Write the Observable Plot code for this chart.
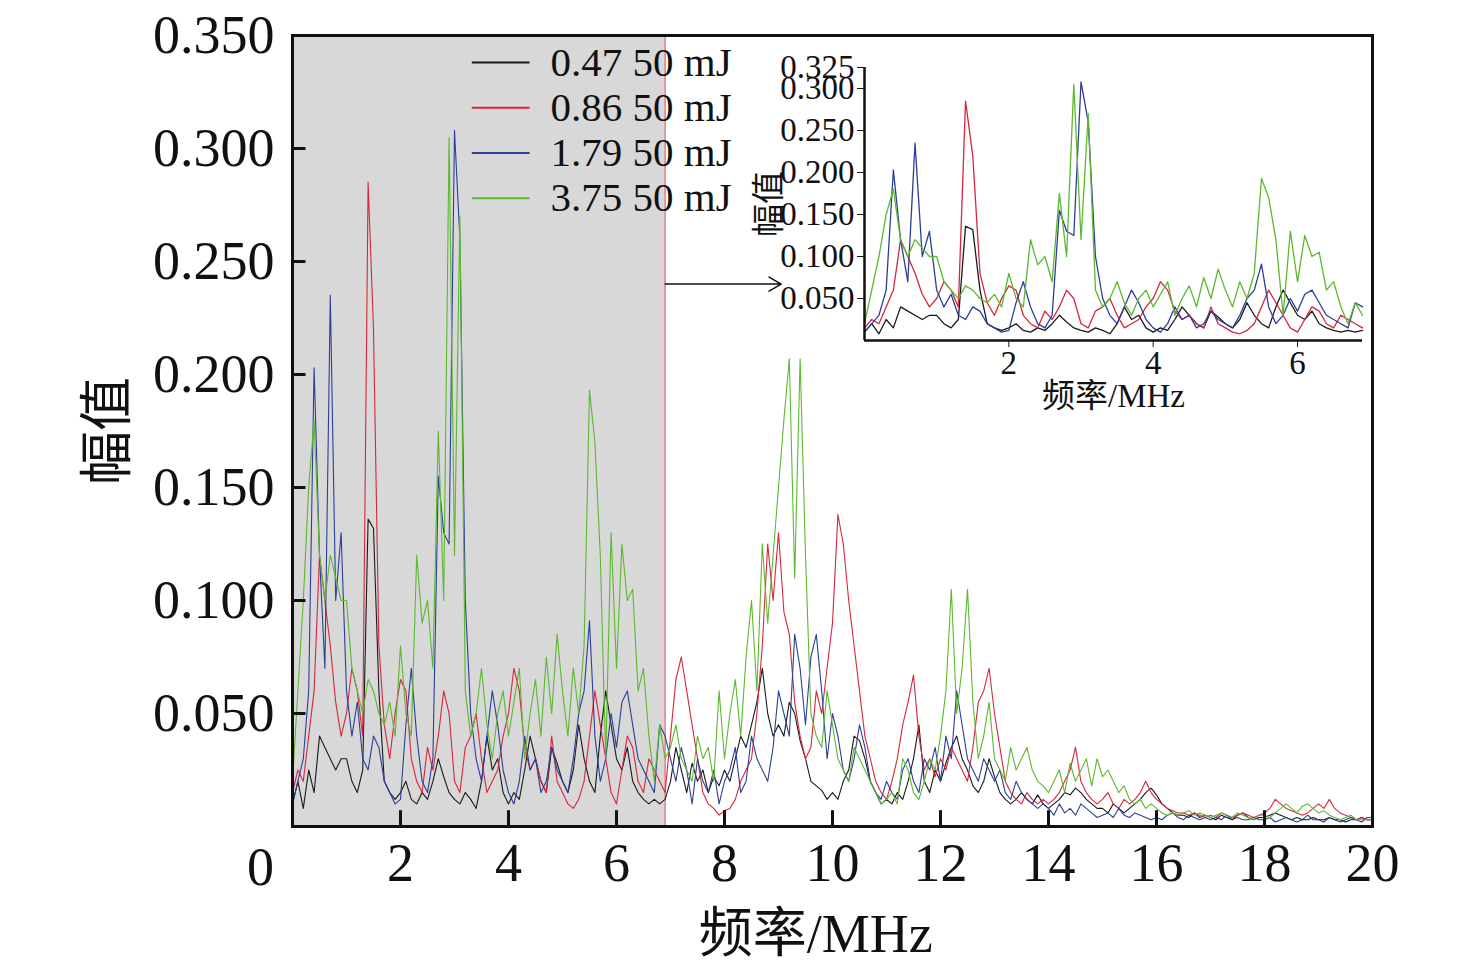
<!DOCTYPE html>
<html><head><meta charset="utf-8">
<script src="https://cdn.jsdelivr.net/npm/d3@7"></script>
<script src="https://cdn.jsdelivr.net/npm/@observablehq/plot@0.6"></script>
<style>
body{margin:0;background:#fff}
#c{position:relative;width:1476px;height:971px}
#c svg{position:absolute;overflow:visible}
</style></head><body><div id="c"></div>
<script>
const seriesNames = ["0.47 50 mJ","0.86 50 mJ","1.79 50 mJ","3.75 50 mJ"];
const seriesColors = ["#1a1a1a","#d7263d","#2b3f98","#5cb82e"];
const freqStep = 0.1; // MHz, x = index * step, 0..20
const black = [10,20,8,25,15,40,35,30,25,30, 30,20,15,25,136,132,60,20,15,12, 15,20,12,10,15,12,20,30,22,15, 12,10,15,12,8,20,40,25,30,15, 10,15,12,25,40,30,20,15,35,28, 20,15,25,45,30,20,15,40,60,45, 30,25,35,20,15,12,10,12,10,12, 20,35,25,15,28,20,25,15,22,18, 25,20,30,40,35,45,55,70,50,40, 45,40,55,50,38,30,20,18,16,12, 15,12,20,25,40,38,30,20,15,10, 12,10,15,12,20,30,45,20,15,25, 20,28,35,40,30,25,18,15,20,30, 22,15,12,10,12,15,12,10,14,10, 8,10,12,15,14,17,15,12,10,8, 8,6,10,8,6,8,10,12,15,17, 14,10,8,6,5,5,4,6,4,5, 4,3,5,4,3,5,6,4,3,4, 4,5,6,5,4,3,4,3,3,4, 3,3,4,3,3,2,3,3,4,3, 3];
const red = [15,25,20,40,60,120,100,80,55,40, 50,70,60,40,285,220,80,45,30,50, 65,60,30,20,15,35,25,40,60,50, 20,15,35,40,50,30,15,20,25,40, 50,70,60,35,25,30,20,15,40,20, 15,10,8,12,20,40,60,45,30,15, 10,25,40,35,20,15,30,25,20,15, 40,65,75,60,45,30,15,10,8,5, 7,8,12,20,25,30,50,80,125,100, 130,95,85,55,40,30,35,60,50,70, 90,138,125,100,80,60,40,30,20,15, 12,20,30,45,55,67,40,25,30,22, 30,25,35,30,25,20,35,55,60,70, 50,35,20,15,12,10,15,12,10,12, 10,12,15,20,25,35,20,15,12,10, 12,15,10,8,12,10,12,15,20,15, 12,10,8,7,6,6,5,6,5,4, 5,4,6,5,4,5,6,5,4,5, 6,8,12,10,8,7,6,5,6,8, 10,8,12,8,6,5,4,3,4,3, 3];
const blue = [10,20,30,60,203,120,70,235,100,130, 60,40,55,30,25,40,35,20,15,10, 12,45,70,40,20,15,30,155,130,125, 308,260,100,50,30,20,40,60,45,25, 15,10,20,40,25,30,15,20,35,25, 20,15,30,50,60,91,40,20,30,50, 35,55,60,45,30,25,20,15,45,40, 30,20,35,25,10,30,20,15,25,10, 20,25,35,15,20,40,30,25,20,35, 60,50,40,85,70,45,75,85,60,30, 50,40,25,20,30,45,35,20,15,12, 20,15,12,25,30,20,15,30,25,35, 20,40,30,60,45,30,25,20,30,25, 20,25,15,12,20,15,12,10,8,10, 8,5,10,6,8,5,10,8,6,4, 5,6,4,8,5,4,6,5,4,3, 4,3,5,6,4,3,5,4,3,4, 3,4,3,5,3,4,3,3,4,3, 3,4,2,3,4,3,2,3,5,3, 3,2,4,3,2,3,4,3,2,4, 4];
const green = [20,60,100,150,180,120,100,120,110,100, 100,70,60,50,65,60,50,45,55,40, 80,50,40,120,90,100,70,175,100,305, 120,270,60,40,50,70,45,30,50,60, 40,55,70,30,50,65,40,75,50,85, 60,40,70,50,80,193,170,120,30,130, 70,125,100,105,60,70,40,20,45,30, 35,45,30,25,20,40,30,35,20,60, 30,50,65,40,75,100,60,125,90,120, 150,180,207,110,207,120,50,40,35,60, 45,30,25,20,35,30,25,20,15,10, 12,15,10,30,25,15,12,20,30,25, 40,60,105,50,70,105,55,30,40,55, 30,25,20,35,25,30,35,25,20,18, 15,20,25,15,28,20,25,30,18,30, 22,25,20,15,18,12,10,12,8,10, 8,6,5,6,5,6,7,5,6,5, 4,5,6,5,4,6,5,4,3,5, 5,4,6,8,10,8,6,9,10,8, 6,7,5,4,3,4,5,3,3,3, 3];
const xTicks = [0,2,4,6,8,10,12,14,16,18,20];
const yTicks = [0.05,0.10,0.15,0.20,0.25,0.30,0.35];
const insetXTicks = [2,4,6];
const insetYTicks = [0.05,0.10,0.15,0.20,0.25,0.30,0.325];
const shadeEnd = 6.9;

const all = [black,red,blue,green];
const rows = [];
all.forEach((arr,si)=>arr.forEach((v,i)=>rows.push({x:+(i*freqStep).toFixed(2), y:v/1000, s:seriesNames[si]})));
const color = {domain:seriesNames, range:seriesColors};
const fmt3 = d3.format(".3f");
const font = "'Liberation Serif','Times New Roman','Noto Sans CJK SC',serif";

const legendY = [0.338,0.318,0.298,0.278];
const legend = seriesNames.map((s,i)=>({s, y:legendY[i]}));

const main = Plot.plot({
  width:1476, height:971, marginLeft:292, marginRight:104, marginTop:35, marginBottom:145,
  style:{fontFamily:font, fontSize:"54px", color:"#111", background:"transparent"},
  x:{domain:[0,20]}, y:{domain:[0,0.35]}, color,
  marks:[
    Plot.rect([{x1:0,x2:shadeEnd}],{x1:"x1",x2:"x2",y1:0,y2:0.35,fill:"#d8d8d8"}),
    Plot.ruleX([shadeEnd],{stroke:"#e07a8a",strokeWidth:1.5}),
    Plot.line(rows,{x:"x",y:"y",z:"s",stroke:"s",strokeWidth:1.1}),
    Plot.ruleX(xTicks.slice(1,-1),{y1:0,y2:0.007,stroke:"#111",strokeWidth:3}),
    Plot.ruleY(yTicks.slice(0,-1),{x1:0,x2:0.25,stroke:"#111",strokeWidth:3}),
    Plot.frame({stroke:"#111",strokeWidth:3}),
    Plot.axisX(xTicks.slice(1),{tickSize:0,tickPadding:16,label:null}),
    Plot.text([0],{x:d=>d,frameAnchor:"bottom",dy:58,dx:-32,text:d=>String(d),fontSize:54}),
    Plot.text(["频率/MHz"],{x:9.69,frameAnchor:"bottom",dy:125,text:d=>d,fontSize:54}),
    Plot.axisY(yTicks,{tickSize:0,tickPadding:18,tickFormat:fmt3,label:"幅值",labelArrow:"none",labelAnchor:"center",labelOffset:205}),
    Plot.ruleY(legend,{x1:3.33,x2:4.4,y:"y",stroke:"s",strokeWidth:2}),
    Plot.text(legend,{x:4.78,y:"y",text:"s",textAnchor:"start",fontSize:41}),
    Plot.arrow([{x1:shadeEnd,x2:9.05,y:0.24}],{x1:"x1",x2:"x2",y1:"y",y2:"y",stroke:"#111",strokeWidth:1.5,headLength:14})
  ]
});
main.style.left="0px"; main.style.top="0px";

const insetRows = rows.filter(d=>d.x<=shadeEnd);
const inset = Plot.plot({
  width:608, height:373, marginLeft:100, marginRight:10, marginTop:20, marginBottom:80,
  style:{fontFamily:font, fontSize:"33px", color:"#111", background:"transparent"},
  x:{domain:[0,shadeEnd]}, y:{domain:[0,0.325]}, color,
  marks:[
    Plot.line(insetRows,{x:"x",y:"y",z:"s",stroke:"s",strokeWidth:1.3}),
    Plot.ruleX([0],{stroke:"#111",strokeWidth:2.5}),
    Plot.ruleY([0],{stroke:"#111",strokeWidth:2.5}),
    Plot.axisX(insetXTicks,{tickSize:7,tickPadding:3,label:"频率/MHz",labelArrow:"none",labelAnchor:"center",labelOffset:66}),
    Plot.axisY(insetYTicks,{tickSize:7,tickPadding:3,tickFormat:fmt3,label:"幅值",labelArrow:"none",labelAnchor:"center",labelOffset:108})
  ]
});
inset.style.left="764px"; inset.style.top="47px";
document.getElementById("c").append(main, inset);
</script></body></html>
